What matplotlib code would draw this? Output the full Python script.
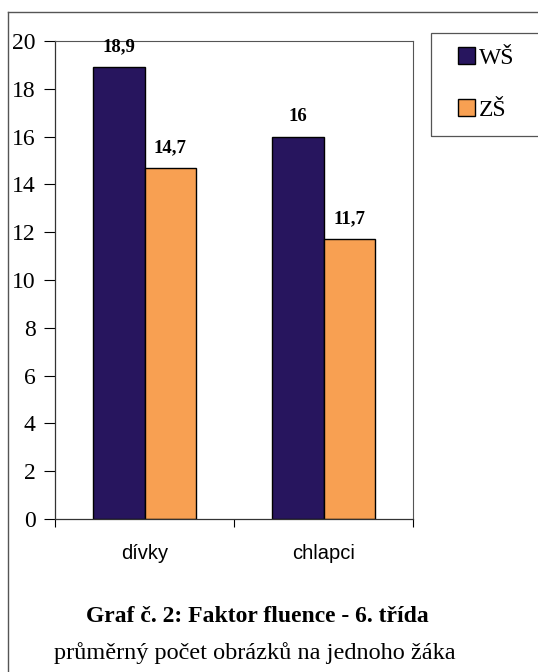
import matplotlib.pyplot as plt
import numpy as np
from matplotlib.patches import Rectangle
from matplotlib.lines import Line2D

# data
kategorie = ['dívky', 'chlapci']
ws = [18.9, 16]
zs = [14.7, 11.7]
popisky_ws = ['18,9', '16']
popisky_zs = ['14,7', '11,7']

c_ws = '#27155E'
c_zs = '#F8A052'
serif = ['Liberation Serif', 'DejaVu Serif']

fig = plt.figure(figsize=(5.38, 6.72), dpi=100)
ax = fig.add_axes([55/538, 153/672, 358/538, 478/672])

x = np.arange(len(kategorie))
w = 0.29
b1 = ax.bar(x - w/2, ws, w, color=c_ws, edgecolor='black', linewidth=1)
b2 = ax.bar(x + w/2, zs, w, color=c_zs, edgecolor='black', linewidth=1)

# popisky hodnot nad sloupci
for rect, t in zip(list(b1) + list(b2), popisky_ws + popisky_zs):
    ax.text(rect.get_x() + rect.get_width()/2, rect.get_height() + 0.85, t,
            ha='center', va='center', fontsize=13.5, fontweight='bold', family=serif)

ax.set_xlim(-0.5, 1.5)
ax.set_ylim(0, 20)
ax.set_yticks(range(0, 21, 2))
ax.set_yticklabels([str(v) for v in range(0, 21, 2)], family=serif, fontsize=17)
ax.tick_params(axis='y', direction='out', length=8, width=0.8, pad=6)

ax.set_xticks(x)
ax.set_xticklabels(kategorie, family=['Liberation Sans', 'DejaVu Sans'], fontsize=14.5)
ax.tick_params(axis='x', length=0, pad=18)
ax.set_xticks([-0.5, 0.5, 1.5], minor=True)
ax.tick_params(axis='x', which='minor', direction='out', length=6, width=0.8)

for s in ['top', 'right']:
    ax.spines[s].set_color('#555555')
    ax.spines[s].set_linewidth(0.8)
for s in ['left', 'bottom']:
    ax.spines[s].set_color('#333333')
    ax.spines[s].set_linewidth(0.9)

# legenda
fig.add_artist(Rectangle((431/538, 1 - 136/672), 120/538, 103/672,
                         transform=fig.transFigure, facecolor='none',
                         edgecolor='#555555', linewidth=0.9, clip_on=False))
leg = fig.legend([b1, b2], ['WŠ', 'ZŠ'], loc='upper left',
                 bbox_to_anchor=(458/538, 1 - 47/672), frameon=False,
                 prop={'family': serif, 'size': 17}, handlelength=0.7,
                 handleheight=0.7, handletextpad=0.2, labelspacing=1.3,
                 borderaxespad=0, borderpad=0)

# vnejsi ramecek
fig.add_artist(Line2D([8/538, 1], [1 - 12/672, 1 - 12/672], color='#555555', linewidth=1))
fig.add_artist(Line2D([8/538, 8/538], [0, 1 - 12/672], color='#555555', linewidth=1))

fig.text(257/538, 1 - 616/672, 'Graf č. 2: Faktor fluence - 6. třída',
         ha='center', va='center', fontsize=17, fontweight='bold', family=serif)
fig.text(255/538, 1 - 653/672, 'průměrný počet obrázků na jednoho žáka',
         ha='center', va='center', fontsize=17.5, family=serif)

fig.savefig('out.png', dpi=100)
